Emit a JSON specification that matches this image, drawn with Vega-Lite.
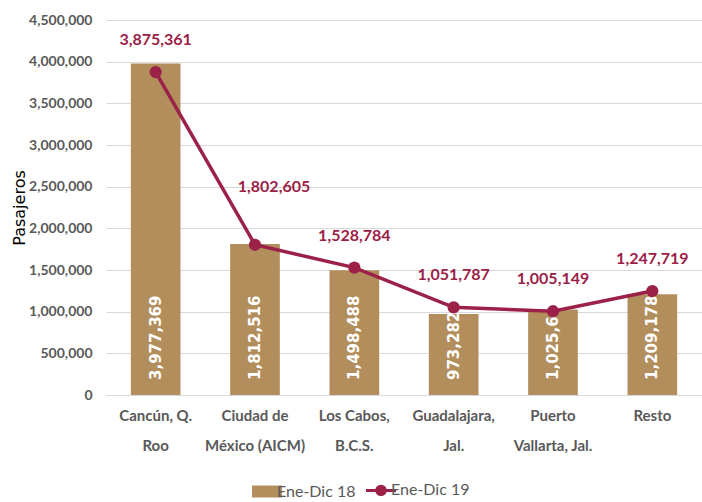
{
  "$schema": "https://vega.github.io/schema/vega-lite/v6.json",
  "autosize": {"type": "none"},
  "width": 596,
  "height": 375,
  "padding": {"left": 106, "top": 20, "right": 0, "bottom": 107},
  "background": "white",
  "config": {
    "view": {"stroke": null},
    "font": "Lato"
  },
  "data": {
    "values": [
      {"aeropuerto": "Cancún, Q.|Roo", "v18": 3977369, "v19": 3875361},
      {"aeropuerto": "Ciudad de|México (AICM)", "v18": 1812516, "v19": 1802605},
      {"aeropuerto": "Los Cabos,|B.C.S.", "v18": 1498488, "v19": 1528784},
      {"aeropuerto": "Guadalajara,|Jal.", "v18": 973282, "v19": 1051787},
      {"aeropuerto": "Puerto|Vallarta, Jal.", "v18": 1025649, "v19": 1005149},
      {"aeropuerto": "Resto", "v18": 1209178, "v19": 1247719}
    ]
  },
  "encoding": {
    "x": {
      "field": "aeropuerto",
      "type": "nominal",
      "sort": null,
      "scale": {"paddingInner": 0.5, "paddingOuter": 0.25},
      "axis": {
        "title": null,
        "labelAngle": 0,
        "labelExpr": "split(datum.label, '|')",
        "labelFont": "Lato",
        "labelFontSize": 15,
        "labelFontWeight": "bold",
        "labelColor": "#595959",
        "labelLineHeight": 30,
        "labelPadding": 13,
        "labelBaseline": "top",
        "ticks": false,
        "domain": true,
        "domainColor": "#D9D9D9"
      }
    }
  },
  "layer": [
    {
      "mark": {"type": "bar"},
      "encoding": {
        "y": {
          "field": "v18",
          "type": "quantitative",
          "scale": {"domain": [0, 4500000]},
          "axis": {
            "title": "Pasajeros",
            "titleFont": "DejaVu Sans",
            "titleFontSize": 16,
            "titleFontWeight": "normal",
            "titleColor": "#000000",
            "titlePadding": 1,
            "values": [0, 500000, 1000000, 1500000, 2000000, 2500000, 3000000, 3500000, 4000000, 4500000],
            "format": ",.0f",
            "labelFont": "Lato",
            "labelFontSize": 14,
            "labelFontWeight": "bold",
            "labelColor": "#595959",
            "labelPadding": 14,
            "ticks": false,
            "domain": false,
            "grid": true,
            "gridColor": "#D9D9D9",
            "gridWidth": 1
          }
        },
        "color": {
          "datum": "Ene-Dic 18",
          "type": "nominal",
          "scale": {"domain": ["Ene-Dic 18", "Ene-Dic 19"], "range": ["#B28E5C", "#9B2148"]},
          "legend": {
            "title": null,
            "orient": "none",
            "direction": "horizontal",
            "legendX": 153,
            "legendY": 462,
            "symbolSize": 900,
            "labelFont": "Lato",
            "labelFontSize": 16,
            "labelColor": "#595959",
            "labelOffset": 2,
            "columnPadding": 4,
            "symbolOpacity": 1,
            "encode": {
              "symbols": {
                "update": {
                  "shape": {"signal": "datum.value === 'Ene-Dic 18' ? 'M-1,-0.4H1V0.4H-1Z' : 'M-1,0H1M0.28,0A0.28,0.28 0 1,1 -0.28,0A0.28,0.28 0 1,1 0.28,0'"},
                  "fill": {"signal": "datum.value === 'Ene-Dic 18' ? '#B28E5C' : '#9B2148'"},
                  "stroke": {"signal": "datum.value === 'Ene-Dic 18' ? '#B28E5C' : '#9B2148'"},
                  "strokeWidth": {"signal": "datum.value === 'Ene-Dic 18' ? 0 : 3"},
                  "opacity": {"value": 1},
                  "fillOpacity": {"value": 1}
                }
              }
            }
          }
        }
      }
    },
    {
      "mark": {"type": "text", "angle": 270, "align": "left", "baseline": "middle", "dx": 15, "font": "DejaVu Sans", "fontWeight": "bold", "fontSize": 15, "fill": "#FFFFFF"},
      "encoding": {
        "y": {"datum": 0, "type": "quantitative"},
        "text": {"field": "v18", "type": "quantitative", "format": ",.0f"}
      }
    },
    {
      "mark": {"type": "line", "strokeWidth": 3.5},
      "encoding": {
        "y": {"field": "v19", "type": "quantitative"},
        "color": {"datum": "Ene-Dic 19", "type": "nominal"}
      }
    },
    {
      "mark": {"type": "point", "filled": true, "size": 150, "opacity": 1},
      "encoding": {
        "y": {"field": "v19", "type": "quantitative"},
        "color": {"datum": "Ene-Dic 19", "type": "nominal"}
      }
    },
    {
      "transform": [{"filter": "datum.aeropuerto !== 'Ciudad de|México (AICM)'"}],
      "mark": {"type": "text", "dy": -32, "baseline": "middle", "font": "Lato", "fontWeight": "bold", "fontSize": 16, "fill": "#9B2148"},
      "encoding": {
        "y": {"field": "v19", "type": "quantitative"},
        "text": {"field": "v19", "type": "quantitative", "format": ",.0f"}
      }
    },
    {
      "transform": [{"filter": "datum.aeropuerto === 'Ciudad de|México (AICM)'"}],
      "mark": {"type": "text", "dy": -58, "dx": 19, "baseline": "middle", "font": "Lato", "fontWeight": "bold", "fontSize": 16, "fill": "#9B2148"},
      "encoding": {
        "y": {"field": "v19", "type": "quantitative"},
        "text": {"field": "v19", "type": "quantitative", "format": ",.0f"}
      }
    }
  ]
}
